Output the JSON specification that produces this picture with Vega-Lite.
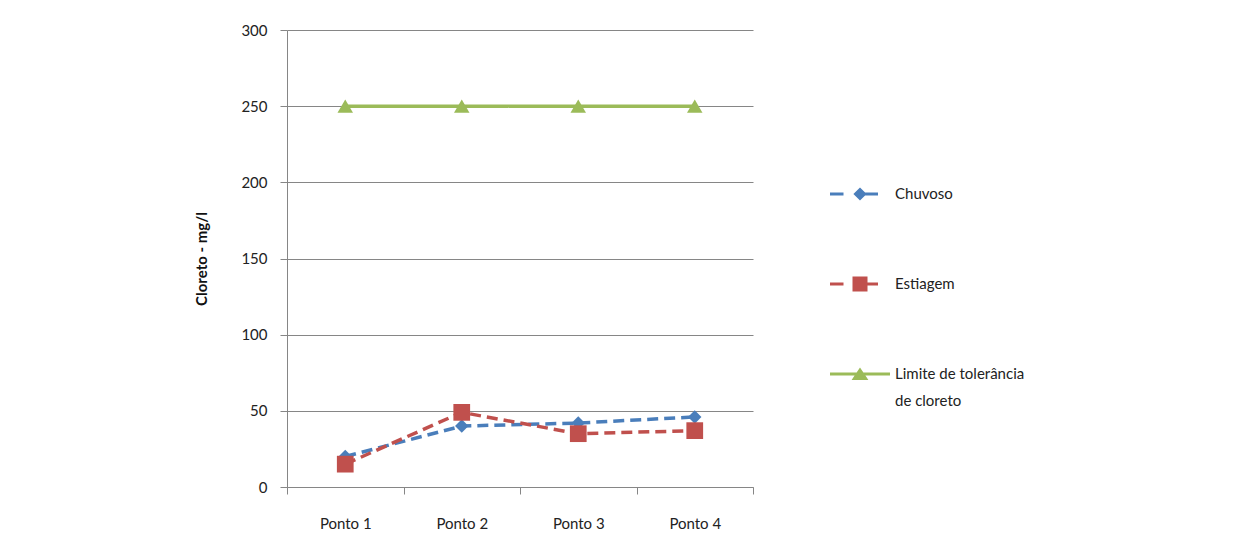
{
  "$schema": "https://vega.github.io/schema/vega-lite/v6.json",
  "width": 466,
  "height": 457,
  "autosize": "none",
  "padding": {"left": 287, "top": 30, "right": 495, "bottom": 59},
  "background": "white",
  "config": {
    "font": "Lato",
    "view": {"stroke": null},
    "legend": {
      "title": null, "orient": "none", "padding": 0, "legendX": 543,
      "symbolSize": 3600, "symbolStrokeWidth": 0, "symbolOpacity": 1,
      "labelOffset": 5, "labelFontSize": 15, "labelColor": "#222", "labelLimit": 300
    }
  },
  "data": {
    "values": [
      {"ponto": "Ponto 1", "serie": "Chuvoso", "valor": 20},
      {"ponto": "Ponto 2", "serie": "Chuvoso", "valor": 40},
      {"ponto": "Ponto 3", "serie": "Chuvoso", "valor": 42},
      {"ponto": "Ponto 4", "serie": "Chuvoso", "valor": 46},
      {"ponto": "Ponto 1", "serie": "Estiagem", "valor": 15},
      {"ponto": "Ponto 2", "serie": "Estiagem", "valor": 49},
      {"ponto": "Ponto 3", "serie": "Estiagem", "valor": 35},
      {"ponto": "Ponto 4", "serie": "Estiagem", "valor": 37},
      {"ponto": "Ponto 1", "serie": "Limite de tolerância de cloreto", "valor": 250},
      {"ponto": "Ponto 2", "serie": "Limite de tolerância de cloreto", "valor": 250},
      {"ponto": "Ponto 3", "serie": "Limite de tolerância de cloreto", "valor": 250},
      {"ponto": "Ponto 4", "serie": "Limite de tolerância de cloreto", "valor": 250}
    ]
  },
  "encoding": {
    "x": {
      "field": "ponto", "type": "nominal", "sort": null,
      "scale": {"type": "band", "paddingInner": 0, "paddingOuter": 0},
      "axis": {
        "title": null, "tickBand": "extent", "grid": false, "labelAngle": 0,
        "domainColor": "#868686", "tickColor": "#868686", "tickSize": 7,
        "labelPadding": 22, "labelFontSize": 15, "labelColor": "#222"
      }
    },
    "y": {
      "field": "valor", "type": "quantitative",
      "scale": {"domain": [0, 300], "nice": false},
      "axis": {
        "title": "Cloreto - mg/l", "titleFontSize": 15, "titleFontWeight": "bold", "titleColor": "#111",
        "titlePadding": 31,
        "values": [0, 50, 100, 150, 200, 250, 300],
        "grid": true, "gridColor": "#868686", "gridWidth": 1,
        "domainColor": "#868686", "tickColor": "#868686", "tickSize": 7,
        "labelPadding": 13, "labelFontSize": 15, "labelColor": "#222"
      }
    }
  },
  "resolve": {"scale": {"fill": "independent"}, "legend": {"fill": "independent"}},
  "layer": [
    {
      "mark": {"type": "line", "strokeWidth": 3.5},
      "encoding": {
        "stroke": {
          "field": "serie", "type": "nominal", "sort": null,
          "scale": {
            "domain": ["Chuvoso", "Estiagem", "Limite de tolerância de cloreto"],
            "range": ["#4A7EBB", "#C0504D", "#9BBB59"]
          },
          "legend": null
        },
        "strokeDash": {
          "field": "serie", "type": "nominal", "sort": null,
          "scale": {
            "domain": ["Chuvoso", "Estiagem", "Limite de tolerância de cloreto"],
            "range": [[11, 6], [11, 6], [1, 0]]
          },
          "legend": null
        }
      }
    },
    {
      "transform": [{"filter": "datum.serie == 'Chuvoso'"}],
      "mark": {"type": "point", "filled": true, "opacity": 1, "shape": "diamond", "size": 180},
      "encoding": {
        "fill": {
          "field": "serie", "type": "nominal",
          "scale": {"domain": ["Chuvoso"], "range": ["#4A7EBB"]},
          "legend": {
            "legendY": 134,
            "symbolType": "M-1,-0.05H-0.55V0.05H-1Z M-0.22,0L0,-0.22L0.22,0L0,0.22Z M0,-0.05H0.6V0.05H0Z"
          }
        }
      }
    },
    {
      "transform": [{"filter": "datum.serie == 'Estiagem'"}],
      "mark": {"type": "point", "filled": true, "opacity": 1, "shape": "square", "size": 280},
      "encoding": {
        "fill": {
          "field": "serie", "type": "nominal",
          "scale": {"domain": ["Estiagem"], "range": ["#C0504D"]},
          "legend": {
            "legendY": 224,
            "symbolType": "M-1,-0.05H-0.55V0.05H-1Z M-0.25,-0.25H0.25V0.25H-0.25Z M0.25,-0.05H0.6V0.05H0.25Z"
          }
        }
      }
    },
    {
      "transform": [{"filter": "datum.serie == 'Limite de tolerância de cloreto'"}],
      "mark": {"type": "point", "filled": true, "opacity": 1, "shape": "triangle-up", "size": 240},
      "encoding": {
        "fill": {
          "field": "serie", "type": "nominal",
          "scale": {"domain": ["Limite de tolerância de cloreto"], "range": ["#9BBB59"]},
          "legend": {
            "legendY": 314,
            "symbolType": "M-1,-0.05H1V0.05H-1Z M-0.28,0.2L0,-0.22L0.28,0.2Z",
            "labelExpr": "['Limite de tolerância', 'de cloreto']",
            "encode": {"labels": {"update": {"lineHeight": {"value": 27}}}}
          }
        }
      }
    }
  ]
}
